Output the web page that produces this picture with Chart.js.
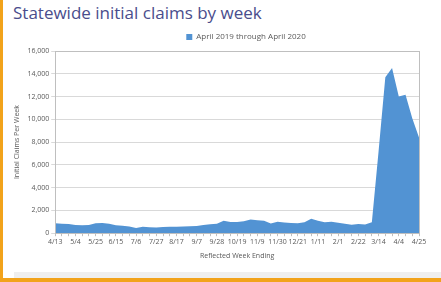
<!DOCTYPE html>
<html>
<head>
<meta charset="utf-8">
<script src="https://cdn.jsdelivr.net/npm/chart.js@4/dist/chart.umd.min.js"></script>
<style>
  body { margin: 0; background: #fff; }
  #frame { position: relative; width: 441px; height: 282px; overflow: hidden; background: #fff; }
  #leftBar { position: absolute; left: 0; top: 0; width: 3px; height: 282px; background: #f2a31b; }
  #bottomBar { position: absolute; left: 0; top: 278px; width: 441px; height: 4px; background: #f2a31b; }
  #shade { position: absolute; left: 14px; top: 272px; width: 427px; height: 6px; background: #efefef; }
  #title { position: absolute; left: 13px; top: 1px; font: 17px "Open Sans", sans-serif; color: #4a4d8c; }
  #chartBox { position: absolute; left: 0; top: 0; width: 441px; height: 272px; }
</style>
</head>
<body>
<div id="frame">
  <div id="leftBar"></div>
  <div id="shade"></div>
  <div id="bottomBar"></div>
  <div id="title">Statewide initial claims by week</div>
  <div id="chartBox"><canvas id="claimsChart"></canvas></div>
</div>
<script>
// week ending labels, Apr 2019 - Apr 2020
const weekLabels = [
    "4/13", "4/20", "4/27", "5/4", "5/11", "5/18", "5/25", "6/1", "6/8", "6/15",
    "6/22", "6/29", "7/6", "7/13", "7/20", "7/27", "8/3", "8/10", "8/17", "8/24",
    "8/31", "9/7", "9/14", "9/21", "9/28", "10/5", "10/12", "10/19", "10/26", "11/2",
    "11/9", "11/16", "11/23", "11/30", "12/7", "12/14", "12/21", "12/28", "1/4", "1/11",
    "1/18", "1/25", "2/1", "2/8", "2/15", "2/22", "2/29", "3/7", "3/14", "3/21",
    "3/28", "4/4", "4/11", "4/18", "4/25"
];

const weeklyClaims = [
    880, 820, 800, 730, 690, 720, 880, 900, 830, 700,
    660, 580, 450, 560, 520, 500, 540, 560, 560, 580,
    600, 640, 720, 790, 820, 1100, 980, 990, 1050, 1200,
    1130, 1100, 850, 1000, 940, 900, 880, 970, 1260, 1090,
    970, 1000, 910, 820, 740, 800, 760, 970, 7200, 13700,
    14500, 12000, 12150, 10100, 8400
];

const seriesName = "April 2019 through April 2020";
const yTicks = [0, 2000, 4000, 6000, 8000, 10000, 12000, 14000, 16000];

const tickFont = { family: "'Open Sans', sans-serif", size: 7 };
const legendFont = { family: "'Open Sans', sans-serif", size: 8 };
const textColor = "#595959";

// box around the plot area
const plotBorder = {
    id: "plotBorder",
    afterDatasetsDraw(chart) {
        const { ctx, chartArea: a } = chart;
        ctx.save();
        ctx.strokeStyle = "#bfbfbf";
        ctx.lineWidth = 1;
        ctx.strokeRect(Math.round(a.left) + 0.5, Math.round(a.top) + 0.5,
            Math.round(a.right - a.left), Math.round(a.bottom - a.top));
        ctx.restore();
    }
};

// legend sits a bit right of centre in the original
const legendShift = {
    id: "legendShift",
    afterLayout(chart) {
        chart.legend.left += 30;
        chart.legend.right += 30;
    }
};

new Chart(document.getElementById("claimsChart"), {
    type: "line",
    data: {
        labels: weekLabels,
        datasets: [{
            label: seriesName,
            data: weeklyClaims,
            fill: "origin",
            backgroundColor: "#5293d3",
            borderColor: "#5293d3",
            borderWidth: 0,
            pointRadius: 0,
            tension: 0
        }]
    },
    options: {
        responsive: true,
        maintainAspectRatio: false,
        animation: false,
        layout: { padding: { top: 29, left: 13, right: 22, bottom: 12 } },
        plugins: {
            legend: {
                labels: {
                    font: legendFont,
                    color: textColor,
                    boxWidth: 6,
                    boxHeight: 6,
                    padding: 4
                }
            },
            tooltip: { enabled: false }
        },
        scales: {
            x: {
                offset: false,
                grid: { drawOnChartArea: false, tickLength: 3, color: "#bfbfbf" },
                border: { color: "#bfbfbf" },
                ticks: {
                    autoSkip: false,
                    maxRotation: 0,
                    font: tickFont,
                    color: textColor,
                    padding: 2,
                    callback: (val, i) => (i % 3 === 0 ? weekLabels[i] : "")
                },
                title: {
                    display: true,
                    text: "Reflected Week Ending",
                    font: tickFont,
                    color: textColor,
                    padding: { top: 3, bottom: 0 }
                }
            },
            y: {
                min: 0,
                max: 16000,
                afterBuildTicks: (axis) => { axis.ticks = yTicks.map(v => ({ value: v })); },
                grid: { color: "#d9d9d9", drawTicks: true, tickLength: 4 },
                border: { color: "#bfbfbf" },
                ticks: {
                    font: tickFont,
                    color: textColor,
                    padding: 2,
                    callback: (v) => v.toLocaleString("en-US")
                },
                title: {
                    display: true,
                    text: "Initial Claims Per Week",
                    font: tickFont,
                    color: textColor,
                    padding: { top: 0, bottom: 4 }
                }
            }
        }
    },
    plugins: [plotBorder, legendShift]
});
</script>
</body>
</html>
